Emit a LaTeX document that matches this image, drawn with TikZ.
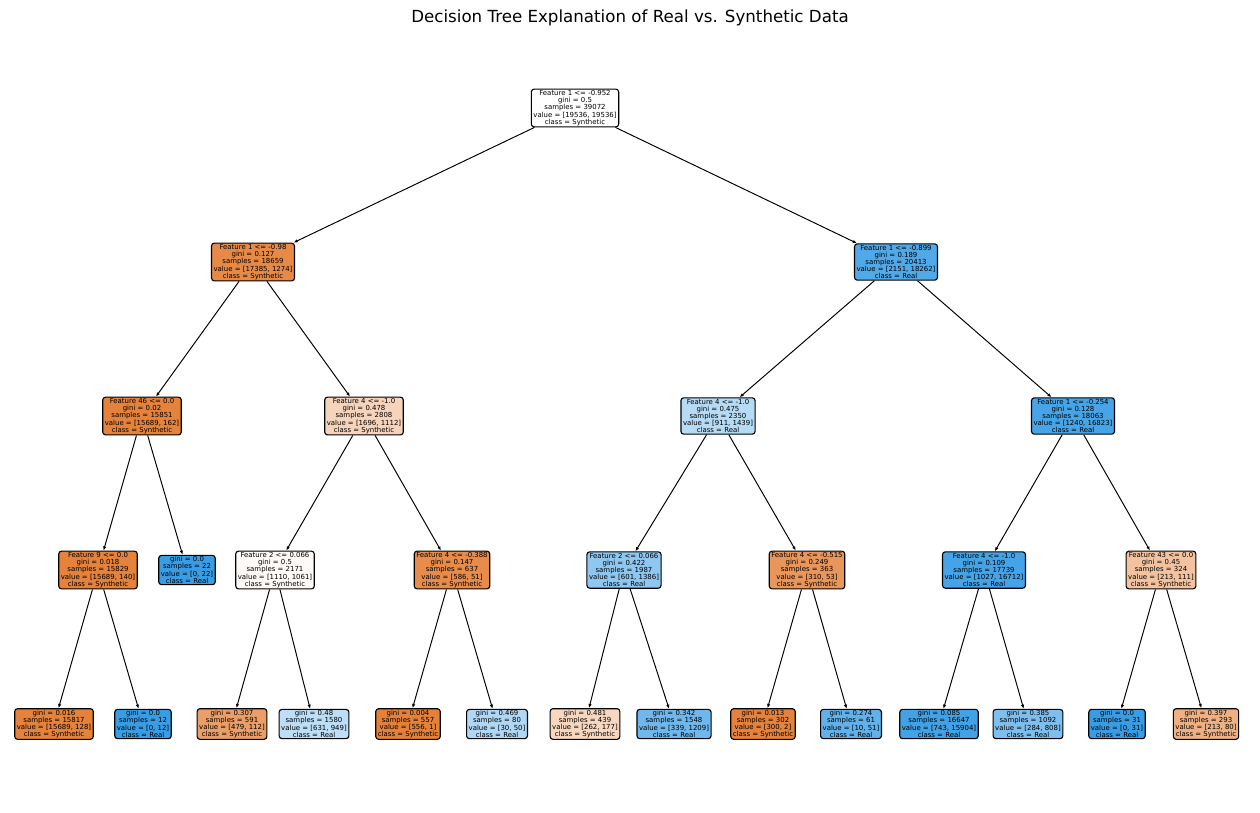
\documentclass[tikz,border=0pt]{standalone}
\usepackage{fontspec}
\setmainfont{DejaVu Sans}
\usetikzlibrary{arrows.meta}
\definecolor{syn}{RGB}{229,129,57}
\definecolor{real}{RGB}{57,157,229}

\begin{document}
\begin{tikzpicture}[
    x=0.72pt, y=-0.72pt,
    treenode/.style={
        rectangle,
        draw=black,
        line width=0.8pt,
        rounded corners=2pt,
        align=center,
        inner xsep=1.5pt,
        inner ysep=0.8pt,
        font=\fontsize{5.0}{5.2}\selectfont
    },
    edge/.style={-{Latex[length=3pt,width=2.4pt]}, line width=0.7pt}
]
\useasboundingbox (0,0) rectangle (1260,812);

% Title
\node[font=\fontsize{12}{14}\selectfont] (title) at (630,18) {Decision Tree Explanation of Real vs. Synthetic Data};

% Level 0
\node[treenode, fill=white] (n0) at (575,108) {Feature 1 <= -0.952\\gini = 0.5\\samples = 39072\\value = [19536, 19536]\\class = Synthetic};

% Level 1
\node[treenode, fill=syn!93] (n1) at (253,262) {Feature 1 <= -0.98\\gini = 0.127\\samples = 18659\\value = [17385, 1274]\\class = Synthetic};
\node[treenode, fill=real!88] (n2) at (896,262) {Feature 1 <= -0.899\\gini = 0.189\\samples = 20413\\value = [2151, 18262]\\class = Real};

% Level 2
\node[treenode, fill=syn!99] (n11) at (142,416) {Feature 46 <= 0.0\\gini = 0.02\\samples = 15851\\value = [15689, 162]\\class = Synthetic};
\node[treenode, fill=syn!34] (n12) at (364,416) {Feature 4 <= -1.0\\gini = 0.478\\samples = 2808\\value = [1696, 1112]\\class = Synthetic};
\node[treenode, fill=real!37] (n21) at (718,416) {Feature 4 <= -1.0\\gini = 0.475\\samples = 2350\\value = [911, 1439]\\class = Real};
\node[treenode, fill=real!93] (n22) at (1073,416) {Feature 1 <= -0.254\\gini = 0.128\\samples = 18063\\value = [1240, 16823]\\class = Real};

% Level 3
\node[treenode, fill=syn!99] (n111) at (98,570) {Feature 9 <= 0.0\\gini = 0.018\\samples = 15829\\value = [15689, 140]\\class = Synthetic};
\node[treenode, fill=real] (n112) at (187,570) {gini = 0.0\\samples = 22\\value = [0, 22]\\class = Real};
\node[treenode, fill=syn!4] (n121) at (275,570) {Feature 2 <= 0.066\\gini = 0.5\\samples = 2171\\value = [1110, 1061]\\class = Synthetic};
\node[treenode, fill=syn!91] (n122) at (452,570) {Feature 4 <= -0.388\\gini = 0.147\\samples = 637\\value = [586, 51]\\class = Synthetic};
\node[treenode, fill=real!57] (n211) at (624,570) {Feature 2 <= 0.066\\gini = 0.422\\samples = 1987\\value = [601, 1386]\\class = Real};
\node[treenode, fill=syn!83] (n212) at (807,570) {Feature 4 <= -0.515\\gini = 0.249\\samples = 363\\value = [310, 53]\\class = Synthetic};
\node[treenode, fill=real!94] (n221) at (984,570) {Feature 4 <= -1.0\\gini = 0.109\\samples = 17739\\value = [1027, 16712]\\class = Real};
\node[treenode, fill=syn!48] (n222) at (1161,570) {Feature 43 <= 0.0\\gini = 0.45\\samples = 324\\value = [213, 111]\\class = Synthetic};

% Level 4 (leaves)
\node[treenode, fill=syn!99] (n1111) at (54,724) {gini = 0.016\\samples = 15817\\value = [15689, 128]\\class = Synthetic};
\node[treenode, fill=real] (n1112) at (143,724) {gini = 0.0\\samples = 12\\value = [0, 12]\\class = Real};
\node[treenode, fill=syn!77] (n1211) at (232,724) {gini = 0.307\\samples = 591\\value = [479, 112]\\class = Synthetic};
\node[treenode, fill=real!34] (n1212) at (314,724) {gini = 0.48\\samples = 1580\\value = [631, 949]\\class = Real};
\node[treenode, fill=syn] (n1221) at (408,724) {gini = 0.004\\samples = 557\\value = [556, 1]\\class = Synthetic};
\node[treenode, fill=real!40] (n1222) at (497,724) {gini = 0.469\\samples = 80\\value = [30, 50]\\class = Real};
\node[treenode, fill=syn!32] (n2111) at (585,724) {gini = 0.481\\samples = 439\\value = [262, 177]\\class = Synthetic};
\node[treenode, fill=real!72] (n2112) at (674,724) {gini = 0.342\\samples = 1548\\value = [339, 1209]\\class = Real};
\node[treenode, fill=syn!99] (n2121) at (763,724) {gini = 0.013\\samples = 302\\value = [300, 2]\\class = Synthetic};
\node[treenode, fill=real!80] (n2122) at (851,724) {gini = 0.274\\samples = 61\\value = [10, 51]\\class = Real};
\node[treenode, fill=real!95] (n2211) at (939,724) {gini = 0.085\\samples = 16647\\value = [743, 15904]\\class = Real};
\node[treenode, fill=real!65] (n2212) at (1028,724) {gini = 0.385\\samples = 1092\\value = [284, 808]\\class = Real};
\node[treenode, fill=real] (n2221) at (1117,724) {gini = 0.0\\samples = 31\\value = [0, 31]\\class = Real};
\node[treenode, fill=syn!62] (n2222) at (1206,724) {gini = 0.397\\samples = 293\\value = [213, 80]\\class = Synthetic};

% Edges
\draw[edge] (n0) -- (n1);
\draw[edge] (n0) -- (n2);
\draw[edge] (n1) -- (n11);
\draw[edge] (n1) -- (n12);
\draw[edge] (n2) -- (n21);
\draw[edge] (n2) -- (n22);
\draw[edge] (n11) -- (n111);
\draw[edge] (n11) -- (n112);
\draw[edge] (n12) -- (n121);
\draw[edge] (n12) -- (n122);
\draw[edge] (n21) -- (n211);
\draw[edge] (n21) -- (n212);
\draw[edge] (n22) -- (n221);
\draw[edge] (n22) -- (n222);
\draw[edge] (n111) -- (n1111);
\draw[edge] (n111) -- (n1112);
\draw[edge] (n121) -- (n1211);
\draw[edge] (n121) -- (n1212);
\draw[edge] (n122) -- (n1221);
\draw[edge] (n122) -- (n1222);
\draw[edge] (n211) -- (n2111);
\draw[edge] (n211) -- (n2112);
\draw[edge] (n212) -- (n2121);
\draw[edge] (n212) -- (n2122);
\draw[edge] (n221) -- (n2211);
\draw[edge] (n221) -- (n2212);
\draw[edge] (n222) -- (n2221);
\draw[edge] (n222) -- (n2222);

\end{tikzpicture}
\end{document}
